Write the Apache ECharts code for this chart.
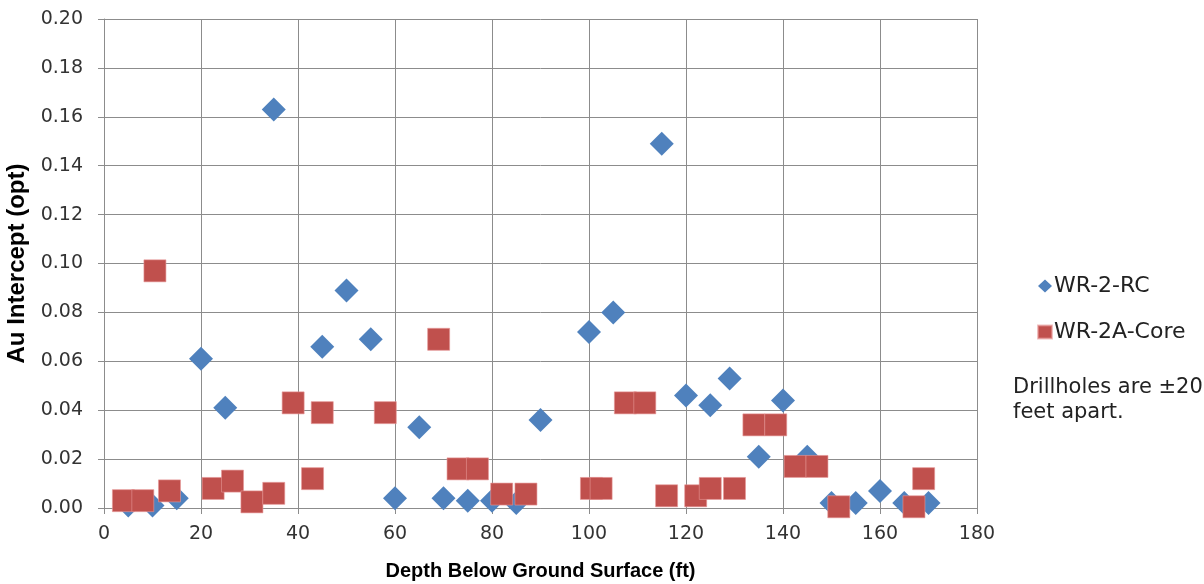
<!DOCTYPE html>
<html>
<head>
<meta charset="utf-8">
<script src="https://cdn.jsdelivr.net/npm/echarts@6/dist/echarts.min.js"></script>
<style>html,body{margin:0;padding:0;background:#fff}#c{width:1204px;height:584px}</style>
</head>
<body>
<div id="c"></div>
<script>
const rcDepth = [5, 10, 15, 20, 25, 35, 45, 50, 55, 60, 65, 70, 75, 80, 85, 90, 100, 105, 115, 120, 125, 129, 135, 140, 145, 150, 155, 160, 165, 170];
const rcAu    = [0.001, 0.001, 0.004, 0.061, 0.041, 0.163, 0.066, 0.089, 0.069, 0.004, 0.033, 0.004, 0.003, 0.003, 0.002, 0.036, 0.072, 0.080, 0.149, 0.046, 0.042, 0.053, 0.021, 0.044, 0.021, 0.002, 0.002, 0.007, 0.002, 0.002];
const coreDepth = [4, 8, 10.5, 13.5, 22.5, 26.5, 30.5, 35, 39, 43, 45, 58, 69, 73, 77, 82, 87, 100.5, 102.5, 107.5, 111.5, 116, 122, 125, 130, 134, 138.5, 142.5, 147, 151.5, 167, 169];
const coreAu    = [0.003, 0.003, 0.097, 0.007, 0.008, 0.011, 0.0025, 0.006, 0.043, 0.012, 0.039, 0.039, 0.069, 0.016, 0.016, 0.0057, 0.0057, 0.008, 0.008, 0.043, 0.043, 0.005, 0.005, 0.008, 0.008, 0.034, 0.034, 0.017, 0.017, 0.0005, 0.0005, 0.012];
const xTicks = [0, 20, 40, 60, 80, 100, 120, 140, 160, 180];
const yTicks = [0, 0.02, 0.04, 0.06, 0.08, 0.10, 0.12, 0.14, 0.16, 0.18, 0.20];
const seriesNames = ['WR-2-RC', 'WR-2A-Core'];
const xTitle = 'Depth Below Ground Surface (ft)';
const yTitle = 'Au Intercept (opt)';
const note = 'Drillholes are \u00b120\nfeet apart.';

const FONT = '"DejaVu Sans", sans-serif';
const BFONT = '"Liberation Sans", Arial, sans-serif';
const chart = echarts.init(document.getElementById('c'), null, {renderer: 'canvas'});
const gridColor = '#8c8c8c';
chart.setOption({
  animation: false,
  backgroundColor: '#ffffff',
  grid: {left: 104, right: 227, top: 19, bottom: 76, containLabel: false, outerBoundsMode: 'none'},
  xAxis: {
    type: 'value', min: xTicks[0], max: xTicks[xTicks.length - 1], interval: 20,
    name: xTitle, nameLocation: 'middle', nameGap: 53,
    nameTextStyle: {fontFamily: BFONT, fontSize: 20, fontWeight: 'bold', color: '#000'},
    axisLine: {show: true, lineStyle: {color: gridColor, width: 1}},
    axisTick: {show: true, length: 6, lineStyle: {color: gridColor}},
    axisLabel: {fontFamily: FONT, fontSize: 19, color: '#333', margin: 17},
    splitLine: {show: true, lineStyle: {color: gridColor, width: 1}}
  },
  yAxis: {
    type: 'value', min: yTicks[0], max: yTicks[yTicks.length - 1], interval: 0.02,
    name: yTitle, nameLocation: 'middle', nameGap: 73, nameRotate: 90,
    nameTextStyle: {fontFamily: BFONT, fontSize: 24, fontWeight: 'bold', color: '#000'},
    axisLine: {show: true, lineStyle: {color: gridColor, width: 1}},
    axisTick: {show: true, length: 6, lineStyle: {color: gridColor}},
    axisLabel: {fontFamily: FONT, fontSize: 19, color: '#333', margin: 21,
      formatter: v => v.toFixed(2)},
    splitLine: {show: true, lineStyle: {color: gridColor, width: 1}}
  },
  legend: {
    orient: 'vertical', left: 1037, top: 275, itemGap: 24, padding: 0,
    itemWidth: 14, itemHeight: 13,
    textStyle: {fontFamily: FONT, fontSize: 22, color: '#222', padding: [0, 0, 0, -3]},
    data: [
      {name: seriesNames[0], icon: 'diamond', itemStyle: {color: '#4F81BD'}},
      {name: seriesNames[1], icon: 'rect', itemStyle: {color: '#C0504D'}}
    ]
  },
  graphic: [{
    type: 'text', left: 1013, top: 375,
    style: {text: note, fontFamily: FONT, fontSize: 21, fill: '#222', lineHeight: 25}
  }],
  series: [
    {
      name: seriesNames[0], type: 'scatter', symbol: 'diamond', symbolSize: 24,
      itemStyle: {color: '#4F81BD', opacity: 1},
      data: rcDepth.map((d, i) => [d, rcAu[i]]), z: 2
    },
    {
      name: seriesNames[1], type: 'scatter', symbol: 'rect', symbolSize: 22,
      itemStyle: {color: '#C0504D', opacity: 1, borderColor: 'rgba(230,150,150,0.6)', borderWidth: 1},
      data: coreDepth.map((d, i) => [d, coreAu[i]]), z: 3
    }
  ]
});
</script>
</body>
</html>
